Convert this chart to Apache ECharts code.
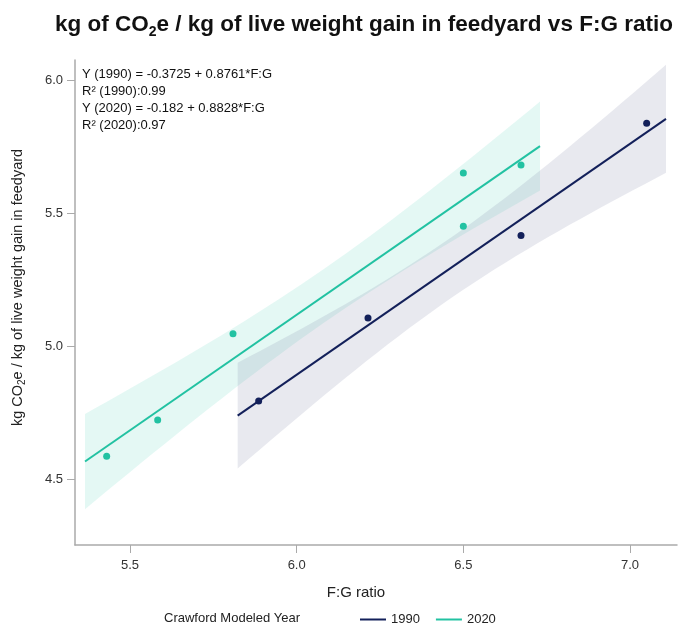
<!DOCTYPE html>
<html>
<head>
<meta charset="utf-8">
<script src="https://cdn.jsdelivr.net/npm/echarts@6/dist/echarts.min.js"></script>
<style>
  html, body { margin: 0; padding: 0; background: #fff; }
  #chart { width: 686px; height: 630px; }
</style>
</head>
<body>
<div id="chart"></div>
<script>
// ---- data ----
const x1990 = [5.886, 6.214, 6.673, 7.05];
const y1990 = [4.793, 5.105, 5.415, 5.837];
const x2020 = [5.43, 5.583, 5.809, 6.5, 6.5, 6.673];
const y2020 = [4.586, 4.722, 5.046, 5.65, 5.45, 5.68];
const fitRange1990 = [5.823, 7.108];
const fitRange2020 = [5.365, 6.73];
const xTicks = [5.5, 6.0, 6.5, 7.0];
const yTicks = [4.5, 5.0, 5.5, 6.0];
const seriesNames = ['1990', '2020'];
const annotationLines = [
  'Y (1990) = -0.3725 + 0.8761*F:G',
  'R\u00b2 (1990):0.99',
  'Y (2020) = -0.182 + 0.8828*F:G',
  'R\u00b2 (2020):0.97'
];
const tCrit95 = { 2: 4.303, 4: 2.776 }; // Student t, two-sided 95%

// ---- styling ----
const COL_1990 = '#13205a';
const COL_2020 = '#22c2a2';
const FONT = '"Liberation Sans", Arial, Helvetica, sans-serif';

function fit(xs, ys) {
  const n = xs.length;
  const xbar = xs.reduce((a, b) => a + b, 0) / n;
  const ybar = ys.reduce((a, b) => a + b, 0) / n;
  let sxx = 0, sxy = 0;
  for (let i = 0; i < n; i++) { sxx += (xs[i] - xbar) ** 2; sxy += (xs[i] - xbar) * (ys[i] - ybar); }
  const b = sxy / sxx, a = ybar - b * xbar;
  let sse = 0;
  for (let i = 0; i < n; i++) sse += (ys[i] - (a + b * xs[i])) ** 2;
  const s = Math.sqrt(sse / (n - 2));
  return { n, xbar, sxx, a, b, s, t: tCrit95[n - 2] };
}

function bandPoints(f, range) {
  const upper = [], lower = [];
  const steps = 40;
  for (let i = 0; i <= steps; i++) {
    const x = range[0] + (range[1] - range[0]) * i / steps;
    const yh = f.a + f.b * x;
    const hw = f.t * f.s * Math.sqrt(1 / f.n + (x - f.xbar) ** 2 / f.sxx);
    upper.push([x, yh + hw]);
    lower.push([x, yh - hw]);
  }
  return upper.concat(lower.reverse());
}

const fit1990 = fit(x1990, y1990);
const fit2020 = fit(x2020, y2020);
const band1990 = bandPoints(fit1990, fitRange1990);
const band2020 = bandPoints(fit2020, fitRange2020);
const line1990 = fitRange1990.map(x => [x, fit1990.a + fit1990.b * x]);
const line2020 = fitRange2020.map(x => [x, fit2020.a + fit2020.b * x]);

function bandSeries(pts, fill, z) {
  return {
    type: 'custom',
    silent: true,
    z: z,
    data: [0],
    renderItem: function (params, api) {
      return {
        type: 'polygon',
        shape: { points: pts.map(p => api.coord(p)) },
        style: { fill: fill }
      };
    }
  };
}

const chart = echarts.init(document.getElementById('chart'), null, { renderer: 'canvas' });

chart.setOption({
  animation: false,
  backgroundColor: '#ffffff',
  title: {
    text: '{a|kg of CO}{sub|2}{a|e / kg of live weight gain in feedyard vs F:G ratio}',
    left: 50,
    top: 6,
    textStyle: {
      rich: {
        a: { fontFamily: FONT, fontWeight: 'bold', fontSize: 22.5, color: '#111', lineHeight: 28 },
        sub: { fontFamily: FONT, fontWeight: 'bold', fontSize: 14, color: '#111', lineHeight: 12, verticalAlign: 'bottom' }
      }
    }
  },
  grid: { left: 75, right: 9, top: 60, bottom: 85, containLabel: false },
  xAxis: {
    type: 'value',
    min: 5.335,
    max: 7.141,
    name: 'F:G ratio',
    nameLocation: 'middle',
    nameGap: 40,
    nameTextStyle: { fontFamily: FONT, fontSize: 15, color: '#222', padding: [0, 40, 0, 0] },
    axisLine: { show: true, lineStyle: { color: '#aaaaaa', width: 1.5 } },
    axisTick: { show: true, length: 8, customValues: xTicks, lineStyle: { color: '#aaaaaa' } },
    axisLabel: { customValues: xTicks, formatter: v => v.toFixed(1), fontFamily: FONT, fontSize: 13, color: '#333', margin: 14 },
    splitLine: { show: false }
  },
  yAxis: {
    type: 'value',
    min: 4.252,
    max: 6.075,
    name: '{a|kg CO}{sub|2}{a|e / kg of live weight gain in feedyard}',
    nameLocation: 'middle',
    nameGap: 48,
    nameRotate: 90,
    nameTextStyle: {
      padding: [0, 0, 0, 30],
      rich: {
        a: { fontFamily: FONT, fontSize: 14.5, color: '#222', lineHeight: 18 },
        sub: { fontFamily: FONT, fontSize: 10, color: '#222', lineHeight: 8, verticalAlign: 'bottom' }
      }
    },
    axisLine: { show: true, lineStyle: { color: '#aaaaaa', width: 1.5 } },
    axisTick: { show: true, length: 8, customValues: yTicks, lineStyle: { color: '#aaaaaa' } },
    axisLabel: { customValues: yTicks, formatter: v => v.toFixed(1), fontFamily: FONT, fontSize: 13, color: '#333', margin: 12 },
    splitLine: { show: false }
  },
  legend: {
    data: [{ name: seriesNames[0], icon: 'rect' }, { name: seriesNames[1], icon: 'rect' }],
    left: 355,
    top: 608,
    itemWidth: 26,
    itemHeight: 2,
    itemGap: 16,
    textStyle: { fontFamily: FONT, fontSize: 13, color: '#222' }
  },
  graphic: [
    {
      type: 'text',
      left: 164,
      top: 612,
      style: { text: 'Crawford Modeled Year', font: '13px ' + FONT, fill: '#222' }
    },
    {
      type: 'text',
      left: 82,
      top: 66,
      style: { text: annotationLines.join('\n'), font: '13px ' + FONT, fill: '#111', lineHeight: 17 }
    }
  ],
  series: [
    bandSeries(band2020, 'rgba(34,194,162,0.12)', 1),
    bandSeries(band1990, 'rgba(120,125,160,0.17)', 2),
    {
      name: seriesNames[1], type: 'line', data: line2020, showSymbol: false, z: 3,
      lineStyle: { color: COL_2020, width: 2 }, itemStyle: { color: COL_2020 }
    },
    {
      name: seriesNames[0], type: 'line', data: line1990, showSymbol: false, z: 3,
      lineStyle: { color: COL_1990, width: 2 }, itemStyle: { color: COL_1990 }
    },
    {
      name: seriesNames[1], type: 'scatter', z: 4, symbolSize: 7,
      data: x2020.map((x, i) => [x, y2020[i]]), itemStyle: { color: COL_2020, opacity: 1 }
    },
    {
      name: seriesNames[0], type: 'scatter', z: 4, symbolSize: 7,
      data: x1990.map((x, i) => [x, y1990[i]]), itemStyle: { color: COL_1990, opacity: 1 }
    }
  ]
});
</script>
</body>
</html>
